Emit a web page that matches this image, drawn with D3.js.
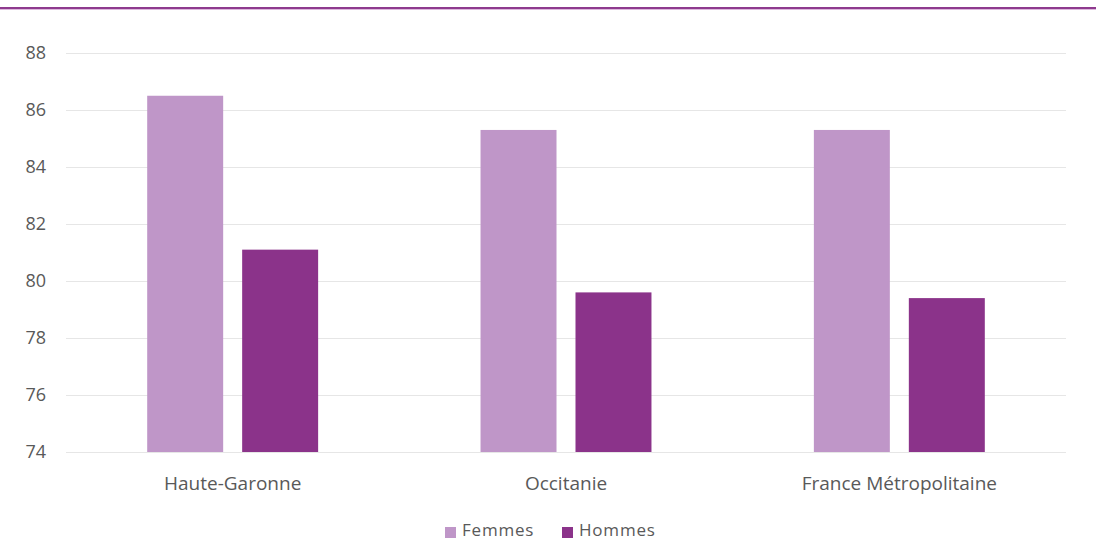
<!DOCTYPE html>
<html><head><meta charset="utf-8">
<script src="https://cdn.jsdelivr.net/npm/d3@7"></script>
<style>body{margin:0;background:#fff}svg{display:block}text{font-family:"Open Sans",sans-serif}</style>
</head><body>
<svg id="c" width="1096" height="543"></svg>
<script>
const categories = ["Haute-Garonne", "Occitanie", "France Métropolitaine"];
const series = ["Femmes", "Hommes"];
const femmes = [86.5, 85.3, 85.3];
const hommes = [81.1, 79.6, 79.4];
const yTicks = [74, 76, 78, 80, 82, 84, 86, 88];
const colors = ["#bf96c8", "#8b338a"];

const svg = d3.select("#c");
// top border
svg.append("rect").attr("x",0).attr("y",7).attr("width",1096).attr("height",2).attr("fill","#8e3a8e");
svg.append("rect").attr("x",0).attr("y",9).attr("width",1096).attr("height",1).attr("fill","#dcb8dc");

const y = d3.scaleLinear().domain([74, 88]).range([452, 53]);
const x0 = d3.scaleBand().domain(categories).range([66, 1066]);
const x1 = d3.scaleBand().domain(series).range([0, x0.bandwidth()]).paddingInner(0.2).paddingOuter(0.855);

// gridlines
svg.append("g").selectAll("line").data(yTicks).join("line")
  .attr("x1",66).attr("x2",1066).attr("y1",d=>Math.round(y(d))+0.5).attr("y2",d=>Math.round(y(d))+0.5)
  .attr("stroke","#e6e6e6").attr("stroke-width",1);

// y axis labels
const yAxis = d3.axisLeft(y).tickValues(yTicks).tickSize(0).tickPadding(0);
const gy = svg.append("g").attr("transform","translate(46,0)").call(yAxis);
gy.select(".domain").remove();
gy.selectAll("text").attr("fill","#595959").style("font-size","18px").style("font-family","'Open Sans',sans-serif");

// bars
const data = categories.map((c,i)=>({cat:c, vals:[{s:"Femmes",v:femmes[i]},{s:"Hommes",v:hommes[i]}]}));
const groups = svg.append("g").selectAll("g").data(data).join("g")
  .attr("transform", d=>`translate(${x0(d.cat)},0)`);
groups.selectAll("rect").data(d=>d.vals).join("rect")
  .attr("x", d=>x1(d.s)).attr("width", x1.bandwidth())
  .attr("y", d=>y(d.v)).attr("height", d=>y(74)-y(d.v))
  .attr("fill", (d,i)=>colors[i]);

// x axis labels
const xAxis = d3.axisBottom(x0).tickSize(0).tickPadding(0);
const gx = svg.append("g").attr("transform","translate(0,476)").call(xAxis);
gx.select(".domain").remove();
gx.selectAll("text").attr("fill","#595959").style("font-size","19px").style("font-family","'Open Sans',sans-serif");

// legend
const legend = svg.append("g");
const lx = [445, 562];
series.forEach((s,i)=>{
  legend.append("rect").attr("x",lx[i]).attr("y",527).attr("width",11).attr("height",11).attr("fill",colors[i]);
  legend.append("text").attr("x",lx[i]+17).attr("y",530).attr("dy","0.35em")
    .attr("fill","#595959").style("font-size","17px").style("letter-spacing","0.8px").text(s);
});
</script>
</body></html>
